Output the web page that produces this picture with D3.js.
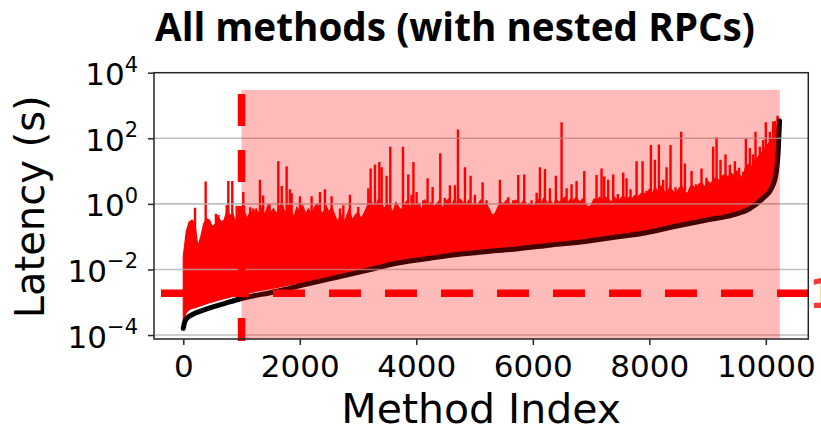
<!DOCTYPE html>
<html>
<head>
<meta charset="utf-8">
<script src="https://cdn.jsdelivr.net/npm/d3@7"></script>
<style>
  html, body { margin: 0; padding: 0; background: #fff; }
  svg { display: block; }
</style>
</head>
<body>
<svg id="chart" width="821" height="427"></svg>
<script>
// ---- data -------------------------------------------------------------
const xTicks = [0, 2000, 4000, 6000, 8000, 10000];
const yTicks = [1e-4, 1e-2, 1, 1e2, 1e4];
const yTickExponents = ["−4", "−2", "0", "2", "4"];

// median latency per method, methods sorted by median (seconds)
const medianIdx = [0, 20, 58, 200, 430, 716, 1000, 1574, 2100, 2600, 3100, 3660, 4234, 4806, 5260, 5750, 6320, 6894, 7465, 7924, 8409, 8982, 9439, 9725, 9954, 10098, 10172, 10212, 10235];
const medianVal = [1.6e-4, 2.4e-4, 3.2e-4, 4.6e-4, 6.5e-4, 9.3e-4, 1.3e-3, 2.1e-3, 3.5e-3, 5.6e-3, 8.9e-3, 0.0155, 0.022, 0.030, 0.036, 0.043, 0.056, 0.071, 0.10, 0.13, 0.20, 0.32, 0.46, 0.72, 1.5, 3.0, 7.6, 39, 340];

// tail latency per method: lower edge of the dense band
const tailFloorIdx = [0, 30, 100, 430, 1000, 1574, 2100, 2600, 3100, 3660, 4234, 5260, 6320, 7465, 8409, 8982, 9439, 9725, 9954, 10098, 10172, 10212, 10235];
const tailFloorVal = [2.4e-4, 4.5e-4, 6.0e-4, 9.5e-4, 1.8e-3, 2.75e-3, 4.2e-3, 6.3e-3, 0.010, 0.017, 0.0235, 0.039, 0.060, 0.107, 0.214, 0.35, 0.49, 0.78, 1.6, 3.2, 7.9, 40, 316];

// tail latency per method: top of the dense band, one reading every 50 methods
const tailTopStep = 50;
const tailTopVal = [
  0.025, 0.14, 0.28, 0.32, 0.25, 0.05, 0.1, 0.25, 0.35, 0.32,
  0.2, 0.25, 0.4, 0.28, 0.32, 0.63, 0.45, 0.5, 0.28, 0.5,
  0.4, 0.56, 0.35, 0.63, 0.45, 0.71, 0.5, 0.79, 0.45, 0.89,
  0.56, 0.71, 0.5, 0.79, 1.0, 0.5, 0.89, 0.63, 0.4, 0.79,
  0.56, 0.89, 0.5, 0.71, 0.45, 0.79, 1.0, 0.63, 0.5, 0.89,
  0.56, 0.79, 0.45, 0.28, 0.5, 0.25, 0.4, 0.71, 0.32, 0.45,
  0.56, 0.35, 0.5, 0.79, 1.3, 1.0, 0.79, 1.4, 1.1, 0.71,
  1.0, 0.79, 0.56, 1.1, 0.79, 0.63, 1.0, 1.3, 0.71, 1.1,
  0.79, 1.0, 0.63, 1.3, 0.89, 1.1, 0.79, 1.0, 1.3, 0.71,
  1.1, 1.4, 0.89, 1.3, 1.0, 1.4, 1.1, 0.89, 1.3, 0.79,
  1.1, 0.89, 1.3, 0.89, 1.0, 0.71, 0.45, 0.5, 0.79, 1.1,
  1.0, 1.3, 1.0, 0.89, 1.3, 1.1, 1.0, 1.3, 0.89, 1.0,
  0.79, 1.1, 1.4, 1.1, 1.6, 1.0, 1.3, 0.89, 1.4, 1.1,
  1.3, 1.6, 1.1, 1.4, 1.3, 1.6, 1.1, 1.4, 1.0, 0.79,
  0.89, 1.4, 1.3, 1.6, 1.3, 1.6, 1.4, 1.1, 1.6, 1.3,
  1.4, 1.8, 1.3, 1.6, 1.4, 1.8, 1.6, 2.0, 2.2, 1.8,
  2.8, 2.0, 3.2, 2.2, 3.5, 2.5, 2.0, 3.2, 2.5, 2.0,
  2.8, 3.5, 2.5, 2.0, 3.2, 3.5, 2.5, 4.0, 4.5, 3.2,
  5.0, 4.0, 5.6, 6.3, 5.0, 7.1, 7.9, 6.3, 8.9, 7.1,
  10, 7.9, 5.6, 13, 16, 13, 20, 25, 32, 40,
  56, 71, 100, 160, 250
];

// tail latency outliers rising above the band
const spikeIdx = [201, 384, 560, 601, 745, 773, 841, 916, 1030, 1150, 1201, 1316, 1370, 1480, 1631, 1690, 1774, 1830, 1860, 2003, 2030, 2203, 2346, 2431, 2546, 2690, 2747, 2861, 3004, 3176, 3216, 3290, 3365, 3405, 3490, 3553, 3662, 3771, 3862, 3919, 3951, 4005, 4120, 4194, 4280, 4411, 4491, 4577, 4663, 4715, 4835, 4932, 5006, 5138, 5206, 5435, 5578, 5664, 5750, 5853, 5979, 6065, 6122, 6208, 6293, 6396, 6494, 6580, 6665, 6751, 6883, 7094, 7180, 7226, 7294, 7380, 7460, 7552, 7609, 7678, 7781, 7884, 7950, 8027, 8095, 8164, 8238, 8296, 8364, 8450, 8547, 8610, 8725, 8800, 8896, 8980, 9096, 9154, 9222, 9308, 9382, 9468, 9540, 9611, 9657, 9726, 9780, 9823, 9897, 9954, 10000, 10069, 10126, 10155, 10200, 10229];
const spikeVal = [0.76, 4.8, 0.5, 0.46, 0.91, 5.0, 5.0, 0.87, 2.3, 0.79, 0.72, 5.4, 1.8, 1.0, 20, 3.5, 14, 2.8, 2.1, 1.7, 0.89, 1.7, 2.3, 2.8, 1.7, 0.72, 0.91, 1.9, 0.81, 3.0, 12, 16, 19, 13, 7.2, 55, 1.05, 55, 7.9, 1.9, 19, 2.3, 1.3, 6.0, 3.3, 35, 1.5, 3.7, 3.7, 186, 13, 7.2, 1.9, 4.6, 1.3, 5.4, 1.6, 1.3, 7.6, 7.9, 1.3, 2.2, 13, 11.5, 3.0, 7.2, 310, 3.0, 4.0, 5.0, 10, 7.6, 12, 6.8, 5.4, 7.9, 2.0, 9.1, 6.0, 2.8, 20, 20, 2.5, 62, 22, 65, 5.4, 13, 62, 3.2, 158, 17, 10, 4.0, 12, 6.3, 55, 105, 22, 32, 15.5, 20, 12.6, 9.5, 100, 51, 32, 158, 55, 89, 310, 158, 324, 339, 490, 363];

// reference markers
const cutoffIdx = 1000;          // vertical marker
const regionEndIdx = 10240;      // end of highlighted region
const regionTop = 3000;          // top of highlighted region (s)
const thresholdLatency = 0.0019; // horizontal marker (s)
const thresholdLabel = "1";

// ---- layout -----------------------------------------------------------
const svg = d3.select("#chart");
const plot = { left: 154, right: 808.3, top: 72.7, bottom: 339 };

const x = d3.scaleLinear().domain([-503, 10729]).range([plot.left, plot.right]);
const y = d3.scaleLog().domain([Math.pow(10, -4.12), 1e4]).range([plot.bottom, plot.top]);

svg.append("defs").append("clipPath").attr("id", "plotClip")
  .append("rect")
  .attr("x", plot.left).attr("y", plot.top)
  .attr("width", plot.right - plot.left).attr("height", plot.bottom - plot.top);

const dataLayer = svg.append("g").attr("clip-path", "url(#plotClip)");

// lower edge of the tail band, interpolated in log space between readings
const floorAt = d3.scaleLinear().domain(tailFloorIdx).range(tailFloorVal.map(v => Math.log10(v))).clamp(true);

// dense band of tail latency
const bandRows = tailTopVal.map((v, k) => ({ i: k * tailTopStep, top: v }));
const band = d3.area()
  .x(d => x(d.i))
  .y0(d => y(Math.pow(10, floorAt(d.i))))
  .y1(d => y(d.top));
dataLayer.append("path")
  .datum(bandRows)
  .attr("d", band)
  .attr("fill", "#ff0000")
  .attr("stroke", "#ff0000")
  .attr("stroke-width", 1.2)
  .attr("stroke-linejoin", "miter");

// outlier spikes
dataLayer.append("g").selectAll("line")
  .data(spikeIdx.map((i, k) => ({ i, v: spikeVal[k] })))
  .join("line")
  .attr("x1", d => x(d.i)).attr("x2", d => x(d.i))
  .attr("y1", d => y(Math.pow(10, floorAt(d.i))))
  .attr("y2", d => y(d.v))
  .attr("stroke", "#ff0000")
  .attr("stroke-width", 2.4);

// median curve
const medianLine = d3.line()
  .x((d, k) => x(medianIdx[k]))
  .y(d => y(d))
  .curve(d3.curveMonotoneX);
dataLayer.append("path")
  .datum(medianVal)
  .attr("d", medianLine)
  .attr("fill", "none")
  .attr("stroke", "#000")
  .attr("stroke-width", 5)
  .attr("stroke-linecap", "round");

// horizontal grid
svg.append("g").selectAll("line")
  .data(yTicks.slice(0, -1))
  .join("line")
  .attr("x1", plot.left).attr("x2", plot.right)
  .attr("y1", d => y(d)).attr("y2", d => y(d))
  .attr("stroke", "#b0b0b0")
  .attr("stroke-opacity", 0.8)
  .attr("stroke-width", 1.6);

// threshold markers
svg.append("line")
  .attr("x1", x(-383)).attr("x2", x(10729))
  .attr("y1", y(thresholdLatency)).attr("y2", y(thresholdLatency))
  .attr("stroke", "#ff0000").attr("stroke-width", 7.5)
  .attr("stroke-dasharray", "32,24");
svg.append("text")
  .attr("x", plot.right + 1).attr("y", y(thresholdLatency) + 15)
  .attr("font-family", "DejaVu Sans").attr("font-weight", "bold")
  .attr("font-size", 41).attr("fill", "#f23a3a")
  .text(thresholdLabel);

svg.append("line")
  .attr("x1", x(cutoffIdx)).attr("x2", x(cutoffIdx))
  .attr("y1", y(Math.pow(10, 3.35))).attr("y2", plot.bottom + 2)
  .attr("stroke", "#ff0000").attr("stroke-width", 7.5)
  .attr("stroke-dasharray", "32,24");

// highlighted region (translucent overlay)
svg.append("rect")
  .attr("clip-path", "url(#plotClip)")
  .attr("x", x(cutoffIdx)).attr("width", x(regionEndIdx) - x(cutoffIdx))
  .attr("y", y(regionTop)).attr("height", plot.bottom - y(regionTop))
  .attr("fill", "#ff0000").attr("fill-opacity", 0.27);

// frame
svg.append("rect")
  .attr("x", plot.left).attr("y", plot.top)
  .attr("width", plot.right - plot.left).attr("height", plot.bottom - plot.top)
  .attr("fill", "none").attr("stroke", "#262626").attr("stroke-width", 1.5);

// axes
const xAxis = svg.append("g")
  .attr("transform", `translate(0,${plot.bottom})`)
  .call(d3.axisBottom(x).tickValues(xTicks).tickSize(6).tickPadding(10).tickFormat(d3.format("d")));
xAxis.select(".domain").remove();
xAxis.selectAll("line").attr("stroke", "#262626").attr("stroke-width", 1.5);
xAxis.selectAll("text")
  .attr("font-family", "DejaVu Sans").attr("font-size", 31).attr("fill", "#000");

const yAxis = svg.append("g")
  .attr("transform", `translate(${plot.left},0)`)
  .call(d3.axisLeft(y).tickValues(yTicks).tickSize(6).tickPadding(10).tickFormat(() => ""));
yAxis.select(".domain").remove();
yAxis.selectAll("line").attr("stroke", "#262626").attr("stroke-width", 1.5);
yAxis.selectAll("text")
  .attr("font-family", "DejaVu Sans").attr("font-size", 31).attr("fill", "#000")
  .attr("dy", 12)
  .each(function(d, k) {
    const t = d3.select(this);
    t.append("tspan").text("10");
    t.append("tspan").attr("font-size", 21).attr("dy", -13.5).text(yTickExponents[k]);
  });

// labels
svg.append("text")
  .attr("x", (plot.left + plot.right) / 2).attr("y", 423)
  .attr("text-anchor", "middle")
  .attr("font-family", "DejaVu Sans").attr("font-size", 41)
  .text("Method Index");

svg.append("text")
  .attr("transform", `translate(44,${(plot.top + plot.bottom) / 2 + 1}) rotate(-90)`)
  .attr("text-anchor", "middle")
  .attr("font-family", "DejaVu Sans").attr("font-size", 40)
  .text("Latency (s)");

const title = svg.append("text")
  .attr("x", 155).attr("y", 41)
  .attr("font-family", "Open Sans").attr("font-weight", "bold").attr("font-size", 38)
  .text("All methods (with nested RPCs)");
const tw = title.node().getComputedTextLength();
title.attr("font-size", 38 * 600 / tw);
</script>
</body>
</html>
